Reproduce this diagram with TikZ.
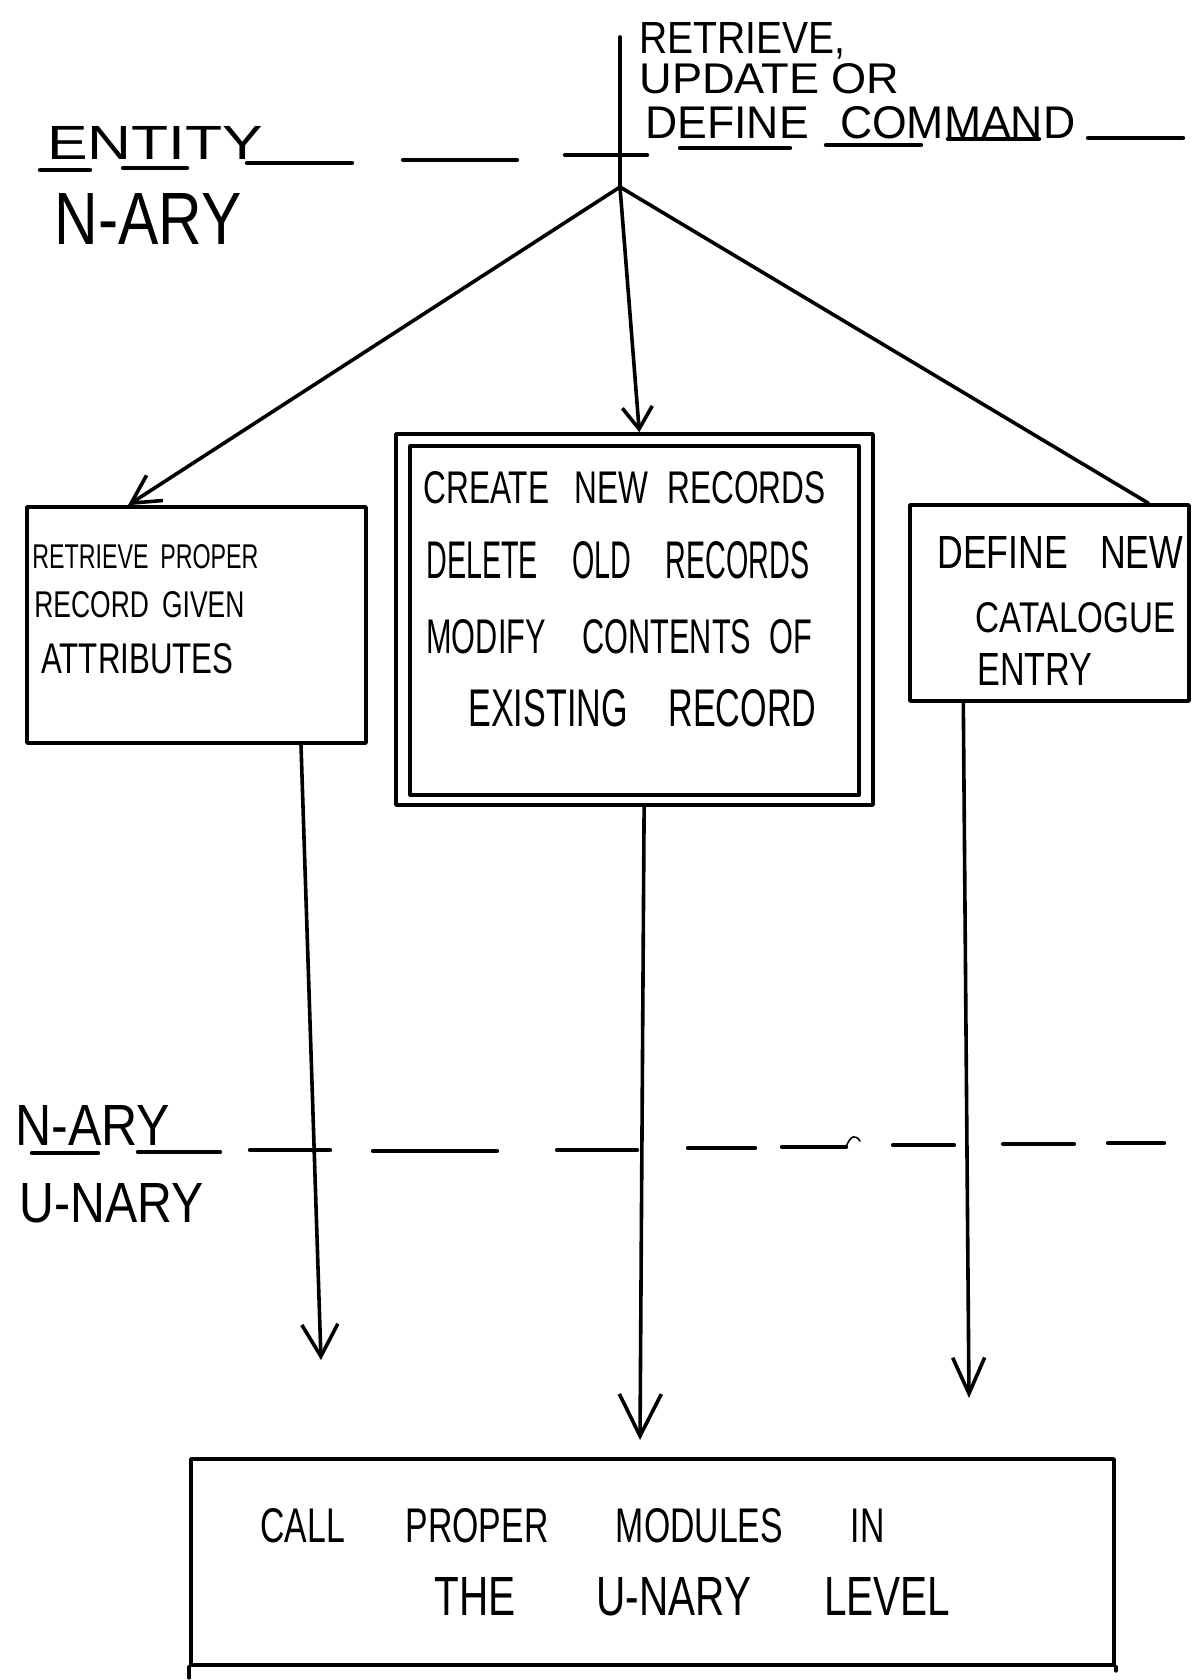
\documentclass[tikz,border=0pt]{standalone}
\usepackage{fontspec}
\usepackage{graphicx}
\setmainfont{Liberation Sans}
\usetikzlibrary{arrows.meta,calc}

% one line of lettering, scaled to a given width and cap height
\newcommand{\hand}[3]{\resizebox{#1}{#2}{#3}}
\newcommand{\gap}[1]{\hspace{#1em}}

\begin{document}
\begin{tikzpicture}[x=0.5pt,y=-0.5pt,
  pen/.style={line width=1.8pt, line cap=round, line join=round},
  box/.style={pen, draw, rectangle, inner sep=0pt},
  lettering/.style={inner sep=0pt, anchor=base west},
  levelline/.style={line width=2.2pt, line cap=round},
]
\useasboundingbox (0,0) rectangle (1191,1680);

% ---------- boxes ----------
\node[box, minimum width=169.5pt, minimum height=118pt] (lbox) at (196.5,625) {};
\node[box, minimum width=238.5pt, minimum height=185.5pt] (cbox) at (634.5,619.5) {};
\draw[pen] ($(cbox.north west)+(16,14)$) rectangle ($(cbox.south east)+(-16,-12)$);
\node[box, minimum width=139.5pt, minimum height=98pt] (rbox) at (1049.5,603) {};
\node[box, minimum width=461.5pt, minimum height=103pt] (bbox) at (652.5,1562) {};
\draw[pen] (bbox.south west) -- ++(0,11);
\draw[pen] (bbox.south east) -- ++(0,4);

% ---------- level boundary: entity / n-ary ----------
\foreach \a/\b/\y in {40/90/170, 123/187/168, 247/352/163, 403/517/160,
                      565/647/155, 680/790/148, 826/921/145, 948/1039/139,
                      1088/1183/138}
  \draw[levelline] (\a,\y) -- (\b,\y);

% ---------- level boundary: n-ary / u-nary ----------
\foreach \a/\b/\y in {32/98/1153, 138/220/1152, 250/330/1150, 373/497/1151,
                      557/637/1150, 688/755/1148, 782/846/1147, 893/954/1145,
                      1003/1074/1144, 1108/1164/1143}
  \draw[levelline] (\a,\y) -- (\b,\y);
\draw[line width=0.8pt, line cap=round] (846,1147) .. controls (851,1134) and (856,1135) .. (860,1141);

% ---------- level names ----------
\node[lettering] (entity) at (47,160) {\hand{108pt}{16.5pt}{ENTITY}};
\node[lettering] (naryA) at (54,244) {\hand{93.5pt}{25.5pt}{N-ARY}};
\node[lettering] (naryB) at (15,1145) {\hand{77.5pt}{20pt}{N-ARY}};
\node[lettering] (unary) at (19,1222) {\hand{92pt}{19.5pt}{U-NARY}};

% ---------- incoming command ----------
\node[lettering] (cmdA) at (639,54) {\hand{103pt}{15.5pt}{RETRIEVE,}};
\node[lettering] (cmdB) at (639,94) {\hand{130pt}{15pt}{UPDATE OR}};
\node[lettering] (cmdC) at (645,139) {\hand{215pt}{16pt}{DEFINE\gap{0.7}COMMAND}};

% ---------- box contents ----------
\node[lettering] (lA) at (32,568) {\hand{113pt}{12pt}{RETRIEVE\gap{0.5}PROPER}};
\node[lettering] (lB) at (34,617) {\hand{105pt}{13pt}{RECORD\gap{0.5}GIVEN}};
\node[lettering] (lC) at (41,673) {\hand{96pt}{15pt}{ATTRIBUTES}};

\node[lettering] (cA) at (423,503) {\hand{201pt}{16pt}{CREATE\gap{0.8}NEW\gap{0.6}RECORDS}};
\node[lettering] (cB) at (426,578) {\hand{191.5pt}{18.5pt}{DELETE\gap{1.2}OLD\gap{1.2}RECORDS}};
\node[lettering] (cC) at (426,653) {\hand{193pt}{17pt}{MODIFY\gap{1.2}CONTENTS\gap{0.6}OF}};
\node[lettering] (cD) at (468,726) {\hand{174pt}{18.5pt}{EXISTING\gap{1.2}RECORD}};

\node[lettering] (rA) at (937,568) {\hand{123pt}{16pt}{DEFINE\gap{0.9}NEW}};
\node[lettering] (rB) at (975,632) {\hand{100pt}{15pt}{CATALOGUE}};
\node[lettering] (rC) at (977,685) {\hand{57.5pt}{16pt}{ENTRY}};

\node[lettering] (bA) at (260,1542) {\hand{312pt}{17pt}{CALL\gap{1.8}PROPER\gap{2}MODULES\gap{2}IN}};
\node[lettering] (bB) at (434,1615) {\hand{258pt}{19pt}{THE\gap{2}U-NARY\gap{1.8}LEVEL}};

% ---------- connectors ----------
\coordinate (cmdtop) at (620,37);
\coordinate (apex) at (620,187);
\coordinate (lend) at (321,1360);
\coordinate (cend) at (640,1440);
\coordinate (rend) at (969,1398);

\draw[pen] (cmdtop) -- (apex);
\draw[pen, -{Straight Barb[length=14pt, width=15pt, line width=1.8pt]}]
  (apex) -- ($(lbox.north west)!0.30!(lbox.north east)$);
\draw[pen, -{Straight Barb[length=11pt, width=15pt, line width=1.8pt]}]
  (apex) -- ($(cbox.north west)!0.51!(cbox.north east)$);
\draw[pen] (apex) -- ($(rbox.north west)!0.85!(rbox.north east)$);

\draw[pen, -{Straight Barb[length=16pt, width=18pt, line width=1.8pt]}]
  ($(lbox.south west)!0.805!(lbox.south east)$) -- (lend);
\draw[pen, -{Straight Barb[length=21pt, width=21pt, line width=1.8pt]}]
  ($(cbox.south west)!0.52!(cbox.south east)$) -- (cend);
\draw[pen, -{Straight Barb[length=18pt, width=16pt, line width=1.8pt]}]
  ($(rbox.south west)!0.195!(rbox.south east)$) -- (rend);
\end{tikzpicture}
\end{document}
